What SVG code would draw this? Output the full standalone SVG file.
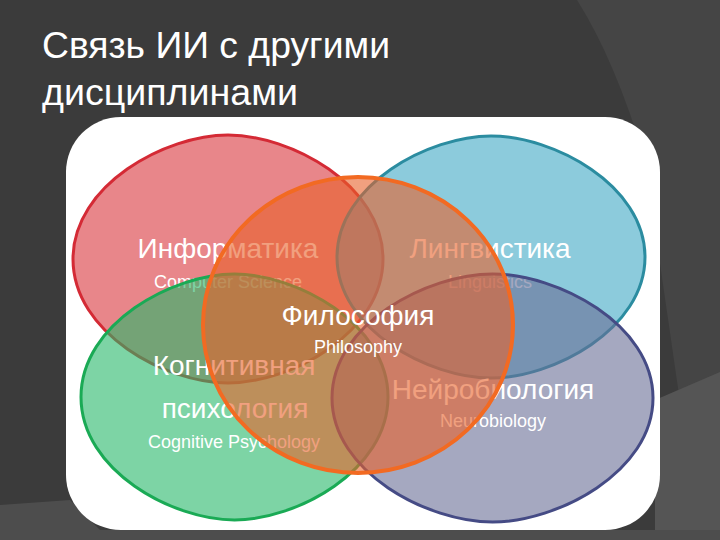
<svg xmlns="http://www.w3.org/2000/svg" width="720" height="540" viewBox="0 0 720 540">
<style>
.title{font-family:"Liberation Sans",Arial,sans-serif;font-size:37px;fill:#ffffff}
.big{font-family:"Liberation Sans",Arial,sans-serif;font-size:28px;fill:#ffffff;text-anchor:middle}
.small{font-family:"Liberation Sans",Arial,sans-serif;font-size:18px;fill:#ffffff;text-anchor:middle}
.set{fill-opacity:0.6;stroke-width:3}
</style>
<rect x="0" y="0" width="720" height="540" fill="#3b3b3b"/>
<path d="M577 0 Q615 60 645 160 L700 540 L720 540 L720 0 Z" fill="#454545"/>
<path d="M655 400 L720 372 L720 540 L655 540 Z" fill="#555555"/>
<path d="M0 505 L70 500 L100 530 L720 530 L720 540 L0 540 Z" fill="#4d4d4d"/>
<text class="title" x="42" y="58" textLength="348" lengthAdjust="spacingAndGlyphs">Связь ИИ с другими</text>
<text class="title" x="42" y="105" textLength="256" lengthAdjust="spacingAndGlyphs">дисциплинами</text>
<rect id="panel" x="66" y="117" width="594" height="413" rx="55" ry="55" fill="#ffffff"/>
<g id="connectors"/>
<g id="informatika">
<path class="set" fill="#d9353c" stroke="#d42a35" d="M383 259 C383 333.4 290 383 228 383 C166 383 73 333.4 73 259 C73 184.6 166 135 228 135 C290 135 383 184.6 383 259 Z"/>
<text class="big" x="228" y="258">Информатика</text>
<text class="small" x="228" y="288">Computer Science</text>
</g>
<g id="lingvistika">
<path class="set" fill="#3fa8c5" stroke="#2b8ca0" d="M645 257 C645 329.6 552.6 378 491 378 C429.4 378 337 329.6 337 257 C337 184.4 429.4 136 491 136 C552.6 136 645 184.4 645 257 Z"/>
<text class="big" x="490" y="258">Лингвистика</text>
<text class="small" x="490" y="288">Linguistics</text>
</g>
<g id="kognitivnaya">
<path class="set" fill="#26b769" stroke="#1aaa55" d="M388 397 C388 470.8 295.9 520 234.5 520 C173.1 520 81 470.8 81 397 C81 323.2 173.1 274 234.5 274 C295.9 274 388 323.2 388 397 Z"/>
<text class="big" x="234" y="375">Когнитивная</text>
<text class="big" x="235" y="418">психология</text>
<text class="small" x="234" y="448">Cognitive Psychology</text>
</g>
<g id="neurobiologiya">
<path class="set" fill="#696e96" stroke="#454b85" d="M653 398 C653 472.4 556.7 522 492.5 522 C428.3 522 332 472.4 332 398 C332 323.6 428.3 274 492.5 274 C556.7 274 653 323.6 653 398 Z"/>
<text class="big" x="493" y="399">Нейробиология</text>
<text class="small" x="493" y="427">Neurobiology</text>
</g>
<g id="filosofiya">
<ellipse class="set" cx="358" cy="325" rx="155" ry="148" fill="#e86129" stroke="#f26a22" style="stroke-width:4"/>
<text class="big" x="358" y="325">Философия</text>
<text class="small" x="358" y="353">Philosophy</text>
</g>
</svg>
